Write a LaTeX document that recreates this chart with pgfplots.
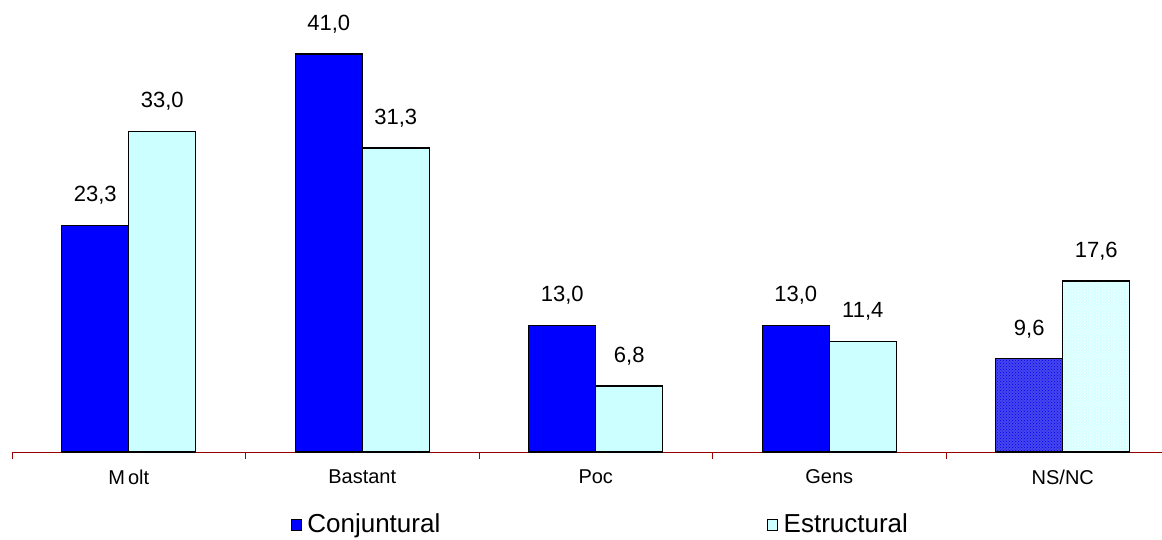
\documentclass[border=0pt]{standalone}
\usepackage{pgfplots}
\pgfplotsset{compat=1.18}
\usepackage{fontspec}
\setmainfont{Liberation Sans}
\usetikzlibrary{patterns}
\definecolor{conj}{RGB}{0,0,255}
\definecolor{estr}{RGB}{204,255,255}
\definecolor{conjp}{RGB}{70,70,235}
\definecolor{estrp}{RGB}{215,255,255}
\definecolor{axred}{RGB}{153,0,0}
\begin{document}
\begin{tikzpicture}[x=1pt,y=1pt]
\begin{axis}[
  scale only axis,
  width=1150pt, height=446.6pt,
  xmin=-0.5, xmax=4.425,
  ymin=0, ymax=46,
  ybar=0pt, bar width=67pt,
  clip=false,
  axis y line=none,
  axis x line*=bottom,
  x axis line style={draw=axred, line width=0.8pt, -},
  xtick={0,1,2,3,4},
  xticklabels={M\kern3pt olt,Bastant,Poc,Gens,NS/NC},
  major tick length=0pt,
  minor xtick={-0.5,0.5,1.5,2.5,3.5},
  minor tick length=7pt,
  minor tick style={draw=axred, line width=0.8pt},
  xtick pos=bottom,
  tick align=outside,
  x tick label style={font=\fontsize{20}{23}\selectfont, yshift=-14pt},
  nodes near coords,
  nodes near coords style={font=\fontsize{22}{25}\selectfont, yshift=17pt,
    /pgf/number format/.cd, fixed, fixed zerofill, precision=1, use comma, assume math mode=true},
  legend columns=2,
  legend style={draw=none, at={(0.5117,0)}, anchor=center, yshift=-72pt,
    font=\fontsize{26}{29}\selectfont, inner sep=0pt,
    /tikz/every even column/.append style={column sep=325pt}},
  legend image code/.code={\draw[#1,draw=black,line width=0.8pt] (0pt,-6pt) rectangle (10pt,5pt); \path[draw=none,fill=none] (0pt,0pt) -- (14pt,0pt);},
]
\addplot[fill=conj, draw=black, line width=1.3pt, bar shift=-33.5pt] coordinates {(0,23.3) (1,41.0) (2,13.0) (3,13.0)};
\addlegendentry{Conjuntural}
\addplot[fill=estr, draw=black, line width=1.3pt, bar shift=33.5pt] coordinates {(0,33.0) (1,31.3) (2,6.8) (3,11.4)};
\addlegendentry{Estructural}
\addplot[fill=conjp, draw=black, line width=1.3pt, bar shift=-33.5pt,
  postaction={pattern=crosshatch dots, pattern color=conj}, forget plot] coordinates {(4,9.6)};
\addplot[fill=estrp, draw=black, line width=1.3pt, bar shift=33.5pt,
  postaction={pattern=crosshatch dots, pattern color=white}, forget plot] coordinates {(4,17.6)};
\coordinate (bl) at (rel axis cs:0,0);
\end{axis}
\pgfresetboundingbox
\path (bl) ++(-12pt,-87pt) rectangle ++(1162pt,539pt);
\end{tikzpicture}
\end{document}
